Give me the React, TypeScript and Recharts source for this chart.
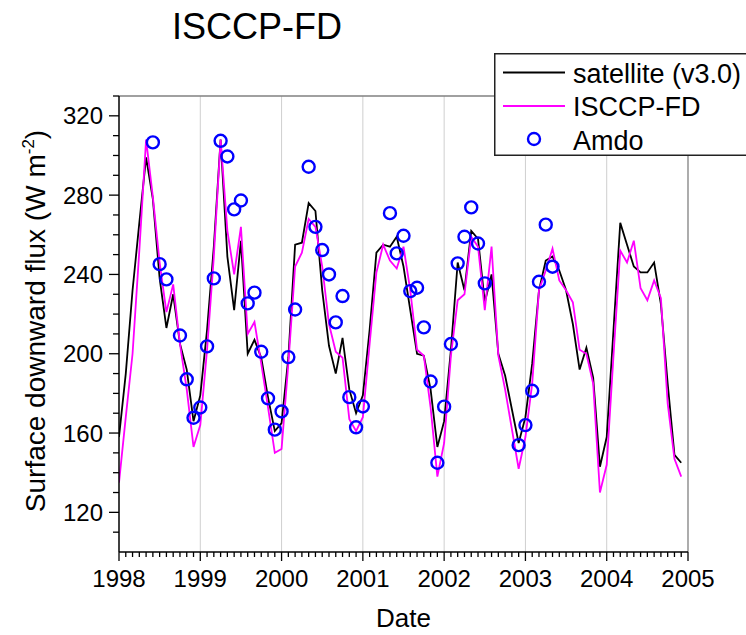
import { ComposedChart, Legend, Line, ReferenceLine, Scatter, XAxis, YAxis } from 'recharts'

// Monthly surface downward flux at Amdo, Jan 1998 .. Dec 2004 (W m-2).
const START_YEAR = 1998
const GRID_YEARS = [1999, 2000, 2001, 2002, 2003, 2004]
const FLUX_TICKS = [110, 120, 130, 140, 150, 160, 170, 180, 190, 200, 210, 220, 230, 240, 250, 260, 270, 280, 290, 300, 310, 320, 330]
const FLUX_LABELS = [120, 160, 200, 240, 280, 320]

const satellite = [
  158, 190, 232, 266, 299, 278, 238, 213, 230, 205, 192, 166,
  179, 212, 254, 308, 249, 222, 257, 200, 207, 198, 178, 161,
  165, 198, 255, 256, 276, 272, 232, 204, 190, 208, 182, 170,
  179, 212, 251, 255, 254, 259, 244, 222, 200, 199, 182, 153,
  166, 202, 246, 232, 262, 258, 226, 240, 200, 189, 172, 155,
  168, 195, 232, 247, 249, 242, 232, 215, 192, 203, 188, 143,
  158, 212, 266, 255, 244, 241, 241, 246, 225, 185, 149, 145,
]

const isccpFd = [
  135, 168, 200, 252, 308, 279, 246, 221, 235, 205, 182, 153,
  164, 202, 249, 308, 262, 240, 264, 210, 216, 195, 173, 150,
  152, 195, 244, 251, 268, 264, 244, 215, 201, 198, 167, 161,
  168, 205, 241, 255, 247, 243, 254, 232, 202, 199, 173, 138,
  155, 199, 227, 230, 259, 254, 222, 254, 199, 182, 162, 142,
  158, 185, 232, 242, 253, 237, 232, 226, 202, 200, 185, 130,
  144, 199, 252, 246, 257, 233, 227, 237, 228, 175, 147, 138,
]

// station record has gaps, so months (since Jan 1998) are listed explicitly
const amdoMonths = [
  5, 6, 7, 9, 10, 11, 12, 13, 14, 15, 16, 17, 18, 19, 20, 21, 22, 23, 24, 25, 26,
  28, 29, 30, 31, 32, 33, 34, 35, 36,
  40, 41, 42, 43, 44, 45, 46, 47, 48, 49, 50, 51, 52, 53, 54,
  59, 60, 61, 62, 63, 64,
]
const amdoFlux = [
  306.6, 245.2, 237.5, 209.2, 187.1, 167.7, 172.9, 203.7, 238.0, 307.4, 299.5, 272.8, 277.3, 225.4, 230.8, 201.0, 177.5, 161.7, 170.9, 198.3, 222.3,
  294.3, 264.0, 252.3, 240.0, 215.8, 229.1, 178.1, 162.9, 173.4,
  270.9, 250.6, 259.5, 231.6, 233.3, 213.3, 186.0, 145.0, 173.3, 204.9, 245.6, 259.0, 273.8, 255.6, 235.5,
  153.9, 164.0, 181.3, 236.3, 265.1, 243.9,
]

const FONT = '"Liberation Sans", Arial, Helvetica, sans-serif'

const series = satellite.map((v, i) => ({ t: START_YEAR + i / 12, sat: v, fd: isccpFd[i] }))
const amdo = amdoMonths.map((m, i) => ({ t: START_YEAR + m / 12, amdo: amdoFlux[i] }))
// one tick per month; only whole years get a label
const monthTicks = Array.from({ length: 85 }, (_, i) => START_YEAR + i / 12)

const isYear = (v: number) => Math.abs(v - Math.round(v)) < 1e-6

function XTick({ x, y, payload }: any) {
  const major = isYear(payload.value)
  return (
    <g>
      <line x1={x} x2={x} y1={y} y2={y + (major ? 9 : 5)} stroke="#000" strokeWidth={1.3} />
      {major && (
        <text x={x} y={y + 35} textAnchor="middle" fontFamily={FONT} fontSize={24} fill="#000">
          {Math.round(payload.value)}
        </text>
      )}
    </g>
  )
}

function YTick({ x, y, payload }: any) {
  const major = FLUX_LABELS.includes(payload.value)
  return (
    <g>
      <line x1={x} x2={x - (major ? 10 : 6)} y1={y} y2={y} stroke="#000" strokeWidth={1.3} />
      {major && (
        <text x={x - 16} y={y + 8.5} textAnchor="end" fontFamily={FONT} fontSize={24} fill="#000">
          {payload.value}
        </text>
      )}
    </g>
  )
}

function AmdoDot({ cx, cy }: any) {
  return <circle cx={cx} cy={cy} r={6} fill="none" stroke="#0000ff" strokeWidth={2.4} />
}

function LegendBox() {
  return (
    <svg width={252} height={103} style={{ display: 'block', fontFamily: FONT }}>
      <rect x={0.75} y={0.75} width={260} height={101.5} fill="#fff" stroke="#222" strokeWidth={1.5} />
      <line x1={9} x2={71} y1={19.5} y2={19.5} stroke="#000" strokeWidth={1.8} />
      <text x={79} y={30} fontSize={27} fill="#000">satellite (v3.0)</text>
      <line x1={9} x2={71} y1={53} y2={53} stroke="#ff00ff" strokeWidth={1.8} />
      <text x={79} y={63} fontSize={27} fill="#000">ISCCP-FD</text>
      <circle cx={40} cy={86} r={6} fill="none" stroke="#0000ff" strokeWidth={2.4} />
      <text x={79} y={97} fontSize={27} fill="#000">Amdo</text>
    </svg>
  )
}

export default function App() {
  return (
    <div style={{ position: 'absolute', left: 0, top: 0, width: 746, height: 635, overflow: 'hidden', background: '#fff' }}>
      <ComposedChart
        width={746}
        height={635}
        data={series}
        margin={{ top: 96, right: 58, bottom: 82, left: 118 }}
      >
        <XAxis
          type="number"
          dataKey="t"
          domain={[1998, 2005]}
          ticks={monthTicks}
          interval={0}
          height={1}
          tickSize={0}
          tickMargin={0}
          tickLine={false}
          tick={<XTick />}
          axisLine={{ stroke: '#000', strokeWidth: 1.5 }}
          allowDataOverflow
        />
        <YAxis
          type="number"
          domain={[100, 330]}
          ticks={FLUX_TICKS}
          interval={0}
          width={1}
          tickSize={0}
          tickMargin={0}
          tickLine={false}
          tick={<YTick />}
          axisLine={{ stroke: '#000', strokeWidth: 1.5 }}
          allowDataOverflow
        />
        {GRID_YEARS.map((yr) => (
          <ReferenceLine key={yr} x={yr} stroke="#cfcfcf" strokeWidth={1} />
        ))}
        <ReferenceLine x={2005} stroke="#808080" strokeWidth={1.3} />
        <ReferenceLine y={330} stroke="#808080" strokeWidth={1.3} />
        <Line type="linear" dataKey="sat" stroke="#000" strokeWidth={1.8} dot={false} isAnimationActive={false} />
        <Line type="linear" dataKey="fd" stroke="#ff00ff" strokeWidth={1.8} dot={false} isAnimationActive={false} />
        <Scatter data={amdo} dataKey="amdo" shape={<AmdoDot />} isAnimationActive={false} />
        <Legend
          layout="horizontal"
          verticalAlign="middle"
          content={() => <LegendBox />}
          wrapperStyle={{ left: 494, top: 53, width: 252, height: 103 }}
        />
      </ComposedChart>
      <svg
        width={746}
        height={635}
        style={{ position: 'absolute', left: 0, top: 0, pointerEvents: 'none', fontFamily: FONT }}
      >
        <text x={257} y={39} textAnchor="middle" fontSize={36} fill="#000">ISCCP-FD</text>
        <text x={403.5} y={627} textAnchor="middle" fontSize={26} fill="#000">Date</text>
        <text transform="rotate(-90)" x={-321} y={45} textAnchor="middle" fontSize={28} fill="#000">
          Surface downward flux (W m<tspan fontSize={17} dy={-11}>-2</tspan>
          <tspan dy={11}>)</tspan>
        </text>
      </svg>
    </div>
  )
}
